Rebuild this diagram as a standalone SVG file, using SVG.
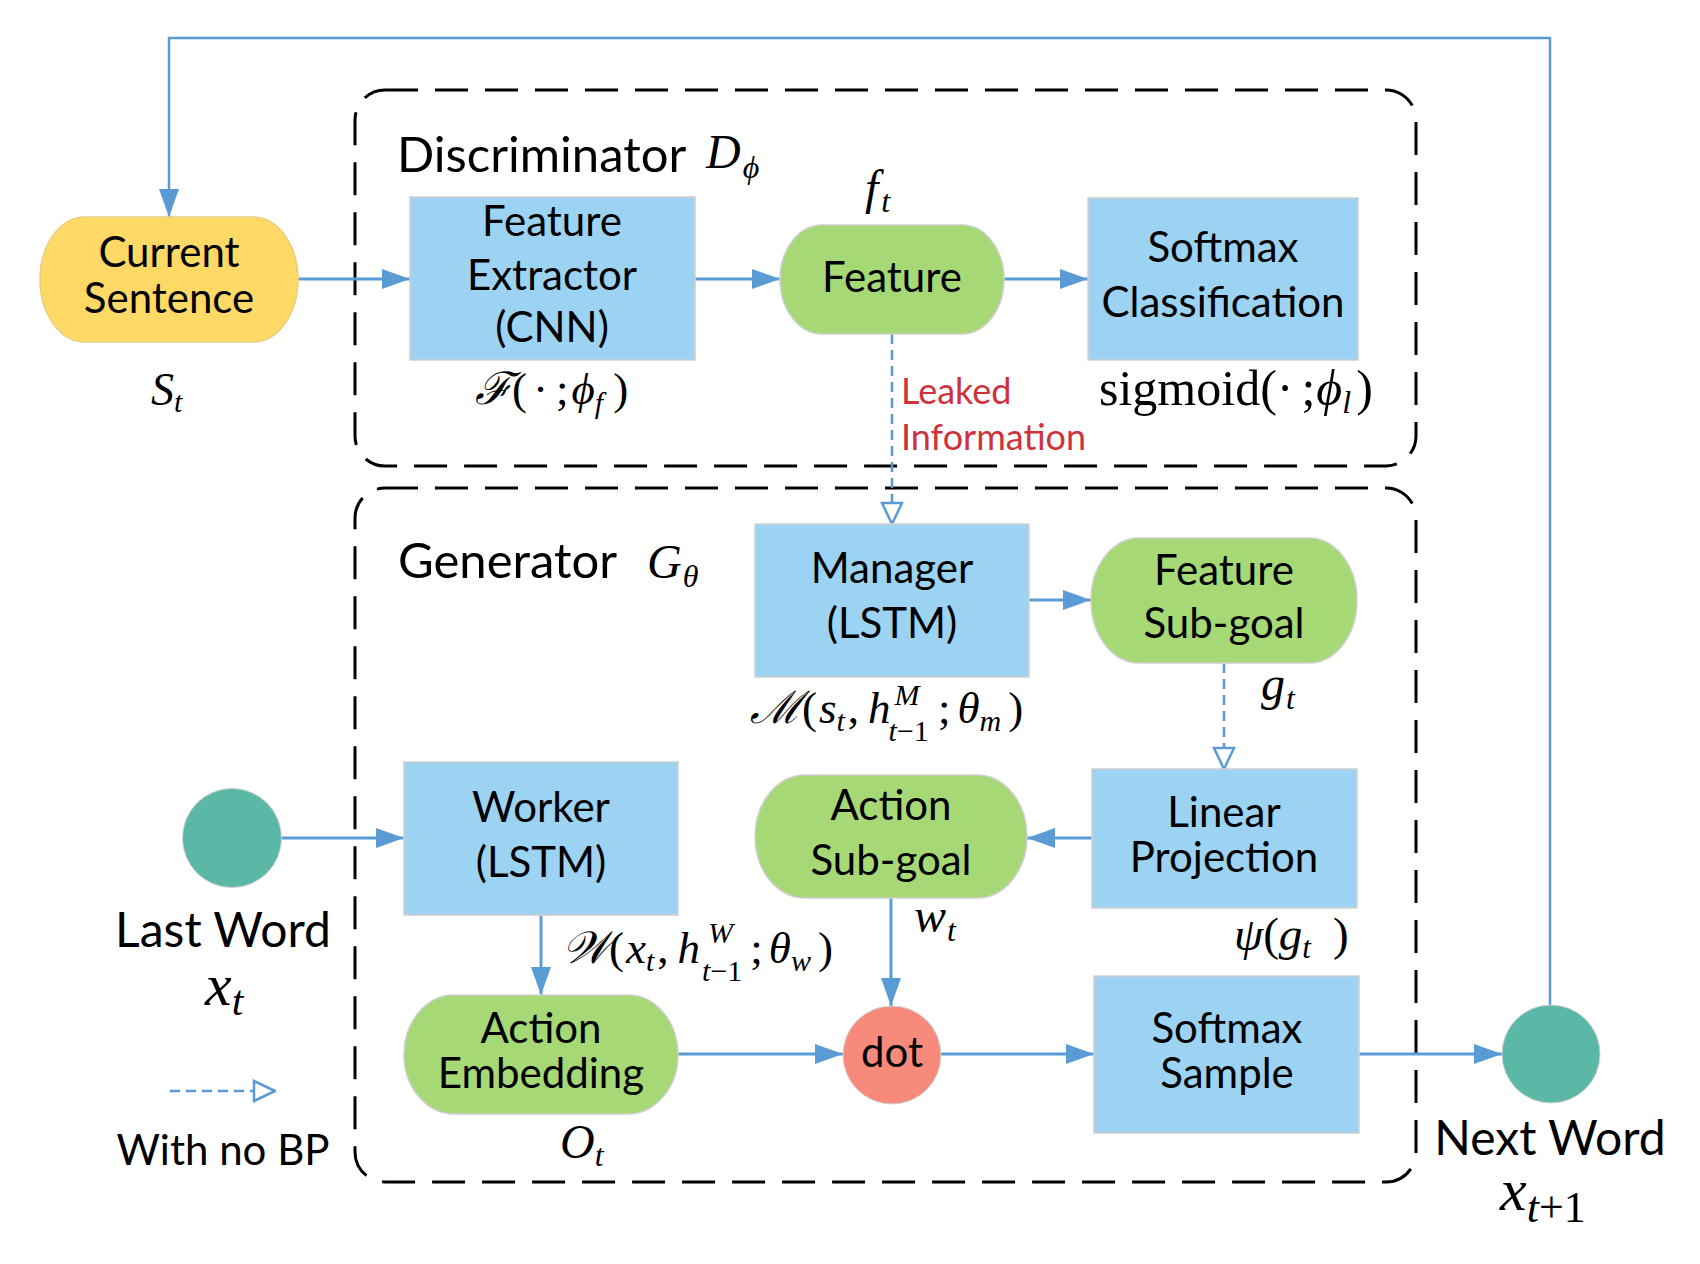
<svg xmlns="http://www.w3.org/2000/svg" width="1700" height="1264" viewBox="0 0 1700 1264">
<style>
.t{font-family:Lato,"Liberation Sans",sans-serif;font-size:42px;fill:#000;text-anchor:middle}
.big{font-size:48px}
.title{font-family:Lato,"Liberation Sans",sans-serif;font-size:49px;fill:#000}
.red{font-family:Lato,"Liberation Sans",sans-serif;font-size:36px;fill:#D0323C}
.m{font-family:"Liberation Serif","DejaVu Serif",serif;font-style:italic;font-size:45px;fill:#000}
.r{font-style:normal}
.box{fill:#9CD3F2;stroke:#cfcfcf;stroke-width:1.5}
.grn{fill:#A6D876;stroke:#cfcfcf;stroke-width:1.5}
.grp{fill:none;stroke:#000;stroke-width:3;stroke-dasharray:33 17}
.a{fill:none;stroke:#5B9BD5;stroke-width:3;marker-end:url(#ah)}
.d{fill:none;stroke:#5B9BD5;stroke-width:2.5;stroke-dasharray:10 6;marker-end:url(#oh)}
</style>
<defs>
<marker id="ah" markerWidth="28" markerHeight="20" refX="28" refY="10" orient="auto" markerUnits="userSpaceOnUse"><path d="M0,0 L28,10 L0,20 z" fill="#5B9BD5"/></marker>
<marker id="oh" markerWidth="24" markerHeight="24" refX="23" refY="12" orient="auto" markerUnits="userSpaceOnUse"><path d="M2,2 L23,12 L2,22 z" fill="#fff" stroke="#5B9BD5" stroke-width="2.5"/></marker>
</defs>
<rect width="1700" height="1264" fill="#fff"/>

<g id="discriminator">
<rect class="grp" x="355" y="90" width="1061" height="376" rx="30"/>
<text class="title" x="397" y="172">Discriminator</text>
<text class="m" style="font-size:48px" x="706" y="168">D<tspan style="font-size:32px" dy="10" dx="2">ϕ</tspan></text>
</g>
<g id="generator">
<rect class="grp" x="355" y="488" width="1061" height="694" rx="30"/>
<text class="title" x="398" y="578">Generator</text>
<text class="m" style="font-size:48px" x="647" y="578">G<tspan style="font-size:32px" dy="9" dx="1">θ</tspan></text>
</g>

<g id="connectors">
<path d="M1550,1005 V38 H169 V217" fill="none" stroke="#5B9BD5" stroke-width="2.5" marker-end="url(#ah)"/>
<path class="a" d="M298,279 H410"/>
<path class="a" d="M695,279 H780"/>
<path class="a" d="M1004,279 H1088"/>
<path class="d" d="M892,334 V524"/>
<path class="a" d="M1029,600 H1091"/>
<path class="d" d="M1224,663 V769"/>
<path class="a" d="M1092,838 H1027"/>
<path class="a" d="M282,838 H404"/>
<path class="a" d="M541,915 V995"/>
<path class="a" d="M891,898 V1006"/>
<path class="a" d="M678,1054 H843"/>
<path class="a" d="M941,1054 H1094"/>
<path class="a" d="M1359,1054 H1502"/>
</g>

<g id="current-sentence">
<rect x="40" y="217" width="258" height="125" rx="45" ry="62.5" fill="#FFD966" stroke="#e8cf80" stroke-width="1.5"/>
<text class="t" x="169" y="267">Current</text>
<text class="t" x="169" y="313">Sentence</text>
<text class="m" style="font-size:46px" x="151" y="405">S<tspan style="font-size:30px" dy="7">t</tspan></text>
</g>

<g id="feature-extractor">
<rect class="box" x="410" y="197" width="285" height="163"/>
<text class="t" x="552" y="236">Feature</text>
<text class="t" x="552" y="290">Extractor</text>
<text class="t" x="552" y="342">(CNN)</text>
<text class="m" x="475" y="404">ℱ<tspan class="r">(</tspan><tspan class="r" dx="6">·</tspan><tspan class="r" dx="8">;</tspan><tspan dx="3">ϕ</tspan><tspan style="font-size:30px" dy="9">f</tspan><tspan class="r" dy="-9" dx="10">)</tspan></text>
</g>

<g id="feature">
<rect class="grn" x="780" y="225" width="224" height="109" rx="42" ry="54.5"/>
<text class="t" x="892" y="292">Feature</text>
<text class="m" style="font-size:48px" x="865" y="204">f<tspan style="font-size:32px" dy="8" dx="3">t</tspan></text>
</g>

<g id="leaked">
<text class="red" x="901" y="404">Leaked</text>
<text class="red" x="901" y="450">Information</text>
</g>

<g id="softmax-classification">
<rect class="box" x="1088" y="198" width="270" height="162"/>
<text class="t" x="1223" y="262">Softmax</text>
<text class="t" x="1223" y="317">Classification</text>
<text class="m r" style="font-size:50px" x="1099" y="405">sigmoid(·<tspan dx="8">;</tspan><tspan font-style="italic" dx="1">ϕ</tspan><tspan font-style="italic" style="font-size:32px" dy="8">l</tspan><tspan dy="-8" dx="5">)</tspan></text>
</g>

<g id="manager">
<rect class="box" x="755" y="524" width="274" height="153"/>
<text class="t" x="892" y="583">Manager</text>
<text class="t" x="892" y="638">(LSTM)</text>
<text class="m" x="750" y="723">ℳ<tspan class="r">(</tspan><tspan dx="2">s</tspan><tspan style="font-size:30px" dy="8">t</tspan><tspan class="r" dy="-8" dx="3">,</tspan><tspan dx="9">h</tspan><tspan style="font-size:30px" dy="-18" dx="4">M</tspan><tspan style="font-size:30px" dy="36" dx="-31">t</tspan><tspan class="r" style="font-size:30px">−1</tspan><tspan class="r" dy="-18" dx="9">;</tspan><tspan dx="7">θ</tspan><tspan style="font-size:30px" dy="8">m</tspan><tspan class="r" dy="-8" dx="7">)</tspan></text>
</g>

<g id="feature-subgoal">
<rect class="grn" x="1091" y="538" width="266" height="125" rx="48" ry="62.5"/>
<text class="t" x="1224" y="585">Feature</text>
<text class="t" x="1224" y="638">Sub-goal</text>
<text class="m" style="font-size:48px" x="1261" y="700">g<tspan style="font-size:32px" dy="9" dx="1">t</tspan></text>
</g>

<g id="linear-projection">
<rect class="box" x="1092" y="769" width="265" height="139"/>
<text class="t" x="1224" y="827">Linear</text>
<text class="t" x="1224" y="872">Projection</text>
<text class="m" style="font-size:47px" x="1234" y="950">ψ<tspan class="r">(</tspan>g<tspan style="font-size:31px" dy="8">t</tspan><tspan class="r" dy="-8" dx="22">)</tspan></text>
</g>

<g id="action-subgoal">
<rect class="grn" x="755" y="775" width="272" height="123" rx="50" ry="61.5"/>
<text class="t" x="891" y="820">Action</text>
<text class="t" x="891" y="875">Sub-goal</text>
<text class="m" style="font-size:48px" x="914" y="932">w<tspan style="font-size:32px" dy="9" dx="1">t</tspan></text>
</g>

<g id="worker">
<rect class="box" x="404" y="762" width="274" height="153"/>
<text class="t" x="541" y="822">Worker</text>
<text class="t" x="541" y="877">(LSTM)</text>
<text class="m" x="562" y="963">𝒲<tspan class="r">(</tspan><tspan dx="2">x</tspan><tspan style="font-size:30px" dy="8">t</tspan><tspan class="r" dy="-8" dx="3">,</tspan><tspan dx="9">h</tspan><tspan style="font-size:30px" dy="-20" dx="8">W</tspan><tspan style="font-size:30px" dy="38" dx="-31">t</tspan><tspan class="r" style="font-size:30px">−1</tspan><tspan class="r" dy="-18" dx="8">;</tspan><tspan dx="6">θ</tspan><tspan style="font-size:30px" dy="8">w</tspan><tspan class="r" dy="-8" dx="7">)</tspan></text>
</g>

<g id="last-word">
<circle cx="232" cy="838" r="49.5" fill="#5BB8A6" stroke="#d0d0d0" stroke-width="1"/>
<text class="t big" x="223" y="947">Last Word</text>
<text class="m" style="font-size:60px" x="205" y="1005">x<tspan style="font-size:42px" dy="10">t</tspan></text>
</g>

<g id="action-embedding">
<rect class="grn" x="404" y="995" width="274" height="119" rx="50" ry="59.5"/>
<text class="t" x="541" y="1043">Action</text>
<text class="t" x="541" y="1088">Embedding</text>
<text class="m" style="font-size:48px" x="560" y="1158">O<tspan style="font-size:32px" dy="8">t</tspan></text>
</g>

<g id="dot">
<circle cx="892" cy="1055" r="49" fill="#F88A7C" stroke="#d0d0d0" stroke-width="1"/>
<text class="t" x="892" y="1067">dot</text>
</g>

<g id="softmax-sample">
<rect class="box" x="1094" y="976" width="265" height="157"/>
<text class="t" x="1227" y="1043">Softmax</text>
<text class="t" x="1227" y="1088">Sample</text>
</g>

<g id="next-word">
<circle cx="1551" cy="1054" r="49" fill="#5BB8A6" stroke="#d0d0d0" stroke-width="1"/>
<text class="t big" x="1550" y="1155">Next Word</text>
<text class="m" style="font-size:60px" x="1500" y="1210">x<tspan style="font-size:44px" dy="12">t</tspan><tspan class="r" style="font-size:44px">+1</tspan></text>
</g>

<g id="legend">
<path class="d" d="M170,1091 H275"/>
<text class="t" style="font-size:42px" x="223" y="1165">With no BP</text>
</g>
</svg>
